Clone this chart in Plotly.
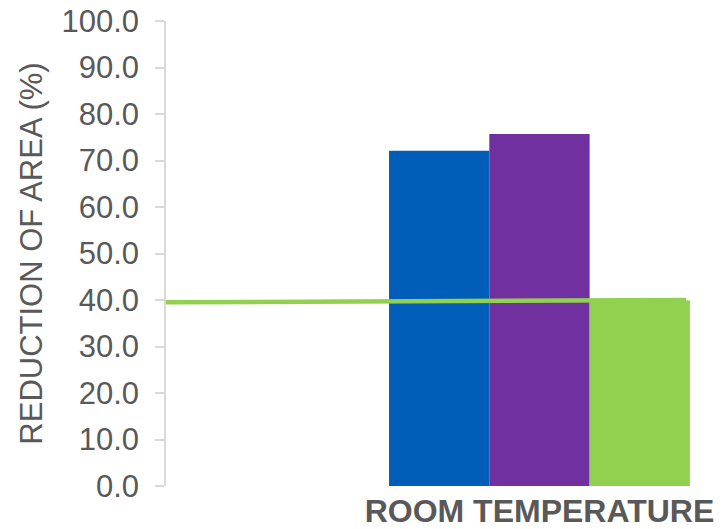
import plotly.graph_objects as go

# Reduction of area by specimen group at room temperature
categories = ["ROOM TEMPERATURE"]
series_names = ["Series A", "Series B", "Series C"]
series_values = [[72.1], [75.7], [39.9]]
series_colors = ["#005EB8", "#7030A0", "#92D050"]

# Reference level drawn across the chart (start, end)
ref_x = [0, 1]
ref_values = [39.5, 40.0]

y_ticks = [0, 10, 20, 30, 40, 50, 60, 70, 80, 90, 100]

fig = go.Figure()
for name, vals, col in zip(series_names, series_values, series_colors):
    fig.add_trace(go.Bar(x=categories, y=vals, name=name, marker_color=col,
                         marker_line_width=0))

fig.add_trace(go.Scatter(x=ref_x, y=ref_values, mode="lines", xaxis="x2",
                         line=dict(color="#92D050", width=4.5),
                         showlegend=False, hoverinfo="skip"))

fig.update_layout(
    width=723, height=529,
    margin=dict(l=166, r=0, t=21, b=38),
    paper_bgcolor="white", plot_bgcolor="white",
    barmode="group", bargap=0.2, bargroupgap=0,
    showlegend=False,
    font=dict(family="Liberation Sans, Arial, sans-serif", color="#595959"),
    xaxis=dict(
        type="category", range=[-0.993, 0.488],
        showline=False, showgrid=False, zeroline=False, ticks="",
        tickfont=dict(size=32, color="#595959", family="Liberation Sans, Arial, sans-serif", weight="bold"),
        ticklabelstandoff=3,
    ),
    xaxis2=dict(overlaying="x", range=[0, 1.071], visible=False),
    yaxis=dict(
        range=[0, 100], tickvals=y_ticks, tickformat=".1f",
        showgrid=False, zeroline=False,
        showline=True, linecolor="#D9D9D9", linewidth=1.5,
        ticks="outside", ticklen=9, tickcolor="#D9D9D9", tickwidth=1.5,
        tickfont=dict(size=31, color="#595959"),
        ticklabelstandoff=10,
        title=dict(text="REDUCTION OF AREA (%)", font=dict(size=31, color="#595959"),
                   standoff=10),
    ),
)

fig.write_html("out.html")
